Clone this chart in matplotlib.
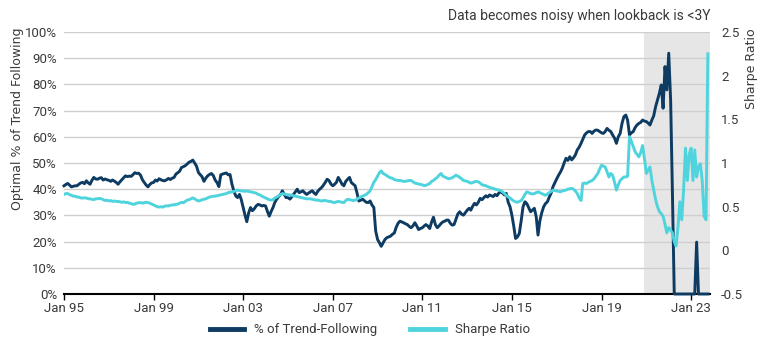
import numpy as np
import pandas as pd
import matplotlib
matplotlib.use("Agg")
import matplotlib.pyplot as plt
import matplotlib.dates as mdates

plt.rcParams["font.family"] = ["Roboto", "DejaVu Sans"]

# monthly values, Jan 1995 - Oct 2023
trend_pct = [
    41.3, 41.8, 42.2, 41.6, 40.9, 41.1, 41.3, 41.3, 41.9, 42.4, 42.6, 42.1,  # 1995
    43.2, 42.4, 41.9, 43.4, 44.5, 43.9, 43.8, 44.2, 44.4, 43.5, 43.9, 43.6,  # 1996
    43.4, 43.0, 43.5, 43.1, 42.6, 41.9, 42.8, 43.6, 44.4, 45.1, 44.8, 45.0,  # 1997
    44.9, 45.6, 46.3, 46.0, 46.1, 45.4, 43.7, 42.6, 41.6, 40.9, 41.8, 42.4,  # 1998
    42.6, 43.5, 43.1, 44.0, 43.6, 43.3, 43.2, 43.6, 44.1, 43.7, 44.2, 44.5,  # 1999
    45.8, 46.3, 46.9, 48.3, 48.6, 49.0, 49.6, 50.3, 50.6, 51.1, 50.0, 48.8,  # 2000
    46.4, 45.5, 44.8, 43.0, 44.2, 45.1, 45.6, 46.0, 45.2, 43.5, 42.5, 41.0,  # 2001
    45.5, 45.8, 46.0, 46.2, 45.5, 45.6, 42.0, 39.4, 37.5, 36.8, 38.0, 36.0,  # 2002
    33.0, 30.0, 27.6, 31.0, 33.0, 31.8, 32.5, 33.6, 34.2, 34.0, 33.6, 33.8,  # 2003
    33.6, 31.5, 29.7, 31.5, 33.0, 35.0, 36.2, 37.2, 38.0, 39.4, 38.0, 36.8,  # 2004
    36.8, 36.2, 37.0, 38.0, 39.0, 40.0, 38.7, 39.0, 39.4, 38.6, 38.0, 38.5,  # 2005
    39.0, 39.4, 38.6, 38.0, 39.2, 40.0, 40.6, 41.5, 42.6, 43.8, 43.3, 42.0,  # 2006
    41.3, 41.9, 42.6, 44.5, 43.3, 41.9, 41.3, 43.0, 43.8, 44.5, 42.5, 41.9,  # 2007
    41.3, 38.5, 35.5, 35.8, 36.2, 35.6, 35.0, 34.9, 35.5, 34.0, 33.0, 24.0,  # 2008
    20.8, 19.5, 18.2, 19.5, 20.8, 21.5, 21.8, 22.1, 22.8, 23.3, 25.5, 27.0,  # 2009
    27.8, 27.5, 27.2, 26.8, 26.5, 25.8, 25.3, 26.0, 27.2, 26.0, 24.6, 25.0,  # 2010
    25.3, 26.0, 26.5, 25.9, 25.0, 27.5, 29.3, 26.5, 25.3, 26.0, 26.9, 27.5,  # 2011
    27.8, 28.2, 28.2, 27.0, 26.3, 26.5, 28.5, 30.5, 31.4, 30.5, 30.1, 31.0,  # 2012
    32.0, 32.7, 32.0, 33.5, 34.6, 34.0, 35.0, 36.5, 36.0, 36.8, 37.5, 37.0,  # 2013
    37.8, 37.5, 37.2, 38.0, 37.5, 38.5, 39.1, 38.5, 37.8, 38.4, 35.0, 33.3,  # 2014
    30.0, 25.7, 21.2, 21.8, 23.1, 28.0, 33.3, 35.2, 34.5, 33.0, 31.4, 32.0,  # 2015
    32.7, 29.5, 22.5, 28.0, 31.0, 33.3, 34.5, 35.2, 37.0, 38.5, 41.0, 42.5,  # 2016
    44.0, 45.4, 46.5, 48.0, 50.0, 51.8, 51.0, 52.4, 51.2, 52.0, 53.1, 55.0,  # 2017
    56.0, 57.5, 59.0, 60.7, 61.5, 62.0, 62.0, 61.3, 62.2, 62.6, 62.5, 62.0,  # 2018
    61.5, 61.3, 62.0, 63.2, 62.5, 62.0, 60.7, 59.5, 57.5, 60.0, 61.3, 65.1,  # 2019
    67.7, 68.3, 66.4, 60.7, 61.5, 62.0, 63.5, 64.5, 65.1, 65.5, 66.4, 66.0,  # 2020
    65.8, 65.2, 64.5, 66.4, 68.0, 71.5, 74.0, 76.6, 79.8, 70.9, 86.8, 77.9,  # 2021
    91.9, 74.0, 40.0, 0.0, 0.0, 0.0, 0.0, 0.0, 0.0, 0.0, 0.0, 0.0,           # 2022
    0.0, 0.0, 0.0, 19.8, 0.0, 0.0, 0.0, 0.0, 0.0, 0.0,                       # 2023
]

sharpe = [
    0.64, 0.65, 0.65, 0.64, 0.63, 0.62, 0.62, 0.61, 0.61, 0.60, 0.60, 0.60,  # 1995
    0.60, 0.59, 0.59, 0.585, 0.58, 0.59, 0.59, 0.595, 0.59, 0.58, 0.57, 0.575,
    0.565, 0.57, 0.56, 0.565, 0.56, 0.56, 0.555, 0.55, 0.555, 0.547, 0.55, 0.54,
    0.535, 0.526, 0.53, 0.54, 0.545, 0.547, 0.54, 0.545, 0.55, 0.547, 0.54, 0.53,
    0.52, 0.508, 0.50, 0.495, 0.50, 0.495, 0.505, 0.51, 0.508, 0.515, 0.52, 0.52,
    0.526, 0.53, 0.54, 0.55, 0.545, 0.56, 0.575, 0.58, 0.59, 0.60, 0.59, 0.575,  # 2000
    0.565, 0.57, 0.58, 0.585, 0.59, 0.60, 0.61, 0.615, 0.62, 0.62, 0.625, 0.63,
    0.635, 0.64, 0.645, 0.65, 0.66, 0.665, 0.67, 0.675, 0.68, 0.69, 0.685, 0.68,
    0.68, 0.675, 0.68, 0.675, 0.67, 0.665, 0.66, 0.655, 0.64, 0.635, 0.62, 0.61,
    0.60, 0.59, 0.58, 0.575, 0.58, 0.60, 0.61, 0.625, 0.64, 0.65, 0.645, 0.64,
    0.635, 0.635, 0.63, 0.625, 0.62, 0.615, 0.61, 0.605, 0.60, 0.595, 0.59, 0.59,  # 2005
    0.59, 0.585, 0.58, 0.575, 0.575, 0.57, 0.565, 0.57, 0.57, 0.565, 0.56, 0.56,
    0.55, 0.547, 0.555, 0.56, 0.555, 0.55, 0.547, 0.57, 0.585, 0.58, 0.575, 0.57,
    0.575, 0.585, 0.60, 0.61, 0.62, 0.63, 0.64, 0.66, 0.68, 0.73, 0.78, 0.81,
    0.85, 0.89, 0.91, 0.88, 0.87, 0.855, 0.84, 0.83, 0.825, 0.81, 0.805, 0.80,
    0.80, 0.795, 0.79, 0.79, 0.795, 0.80, 0.80, 0.785, 0.77, 0.765, 0.76, 0.755,  # 2010
    0.75, 0.74, 0.745, 0.755, 0.765, 0.79, 0.80, 0.82, 0.835, 0.86, 0.88, 0.85,
    0.84, 0.83, 0.82, 0.825, 0.83, 0.845, 0.86, 0.85, 0.835, 0.82, 0.80, 0.795,
    0.79, 0.78, 0.77, 0.775, 0.785, 0.79, 0.785, 0.77, 0.75, 0.745, 0.74, 0.73,
    0.72, 0.715, 0.71, 0.70, 0.695, 0.69, 0.685, 0.67, 0.65, 0.63, 0.61, 0.60,
    0.58, 0.565, 0.555, 0.55, 0.56, 0.57, 0.60, 0.64, 0.67, 0.66, 0.65, 0.645,  # 2015
    0.65, 0.66, 0.67, 0.66, 0.65, 0.64, 0.63, 0.645, 0.66, 0.675, 0.69, 0.685,
    0.68, 0.675, 0.67, 0.68, 0.685, 0.69, 0.70, 0.705, 0.71, 0.70, 0.68, 0.65,
    0.60, 0.57, 0.765, 0.77, 0.765, 0.78, 0.79, 0.80, 0.82, 0.85, 0.88, 0.93,
    0.975, 0.965, 0.955, 0.90, 0.84, 0.88, 0.86, 0.78, 0.69, 0.75, 0.80, 0.82,
    0.84, 0.84, 0.85, 1.30, 1.25, 1.19, 1.13, 1.10, 1.07, 1.12, 1.20, 1.05,  # 2020
    0.88, 0.92, 0.955, 0.80, 0.69, 0.58, 0.50, 0.445, 0.42, 0.39, 0.30, 0.20,
    0.26, 0.23, 0.20, 0.10, 0.05, 0.27, 0.555, 0.35, 0.70, 1.17, 0.80, 1.10,
    1.17, 0.80, 1.15, 0.84, 0.955, 0.99, 0.80, 0.39, 0.35, 2.25,  # 2023
]

dates = pd.date_range("1995-01-01", periods=len(trend_pct), freq="MS")
tick_dates = pd.date_range("1995-01-01", "2023-01-01", freq="4YS")

navy = "#0d3b62"
cyan = "#4fd3dd"
grey_txt = "#3a3a3a"

fig = plt.figure(figsize=(7.7, 3.46), dpi=100)
ax = fig.add_axes([64 / 770, 1 - 294 / 346, (710 - 64) / 770, (294 - 32) / 346])
ax2 = ax.twinx()

# shaded window where lookback is shorter than 3 years
ax.axvspan(pd.Timestamp("2020-11-25"), pd.Timestamp("2023-11-05"),
           color="#e6e6e6", lw=0, zorder=0)

ax.plot(dates, trend_pct, color=navy, lw=2.1, zorder=3,
        solid_joinstyle="round", clip_on=False)
ax2.plot(dates, sharpe, color=cyan, lw=2.1, zorder=3, solid_joinstyle="round")

ax.set_xlim(pd.Timestamp("1995-01-01"), pd.Timestamp("2023-11-05"))
ax.set_ylim(0, 100)
ax2.set_ylim(-0.5, 2.5)

ax.set_yticks(np.arange(0, 101, 10))
ax.set_yticklabels([f"{v}%" for v in range(0, 101, 10)])
ax2.set_yticks([-0.5, 0, 0.5, 1, 1.5, 2, 2.5])
ax2.set_yticklabels(["-0.5", "0", "0.5", "1", "1.5", "2", "2.5"])

ax.set_axisbelow(True)
ax.grid(axis="y", color="#cfcfcf", lw=1.0, zorder=0.5)

ax.set_xticks(tick_dates)
ax.xaxis.set_major_formatter(mdates.DateFormatter("Jan %y"))

for a in (ax, ax2):
    for s in ("top", "left", "right", "bottom"):
        a.spines[s].set_visible(False)
ax.spines["bottom"].set_visible(True)
ax.spines["bottom"].set_color("black")
ax.spines["bottom"].set_linewidth(1.5)
ax.spines["bottom"].set_zorder(2.5)

ax.tick_params(axis="x", length=4, width=1, color="black", labelsize=9.5,
               labelcolor=grey_txt, pad=2)
ax.tick_params(axis="y", length=0, labelsize=9.5, labelcolor=grey_txt, pad=5)
ax2.tick_params(axis="y", length=0, labelsize=9.5, labelcolor=grey_txt, pad=8)

fig.text(18 / 770, 1 - 28 / 346, "Optimal % of Trend Following", rotation=90,
         ha="center", va="top", fontsize=9, color=grey_txt,
         family=["DejaVu Sans"])
fig.text(752 / 770, 1 - 28 / 346, "Sharpe Ratio", rotation=90,
         ha="center", va="top", fontsize=9, color=grey_txt,
         family=["DejaVu Sans"])
fig.text(711 / 770, 1 - 16 / 346, "Data becomes noisy when lookback is <3Y",
         ha="right", va="center", fontsize=10, color=grey_txt)

h1, = ax.plot([], [], color=navy, lw=3.5)
h2, = ax.plot([], [], color=cyan, lw=3.5)
fig.legend([h1, h2], ["% of Trend-Following", "Sharpe Ratio"],
           loc="center", bbox_to_anchor=(370 / 770, 1 - 330 / 346), ncol=2,
           frameon=False, fontsize=9.5, handlelength=2.6, columnspacing=2.5,
           labelcolor=grey_txt)

fig.savefig("out.png", dpi=100)
